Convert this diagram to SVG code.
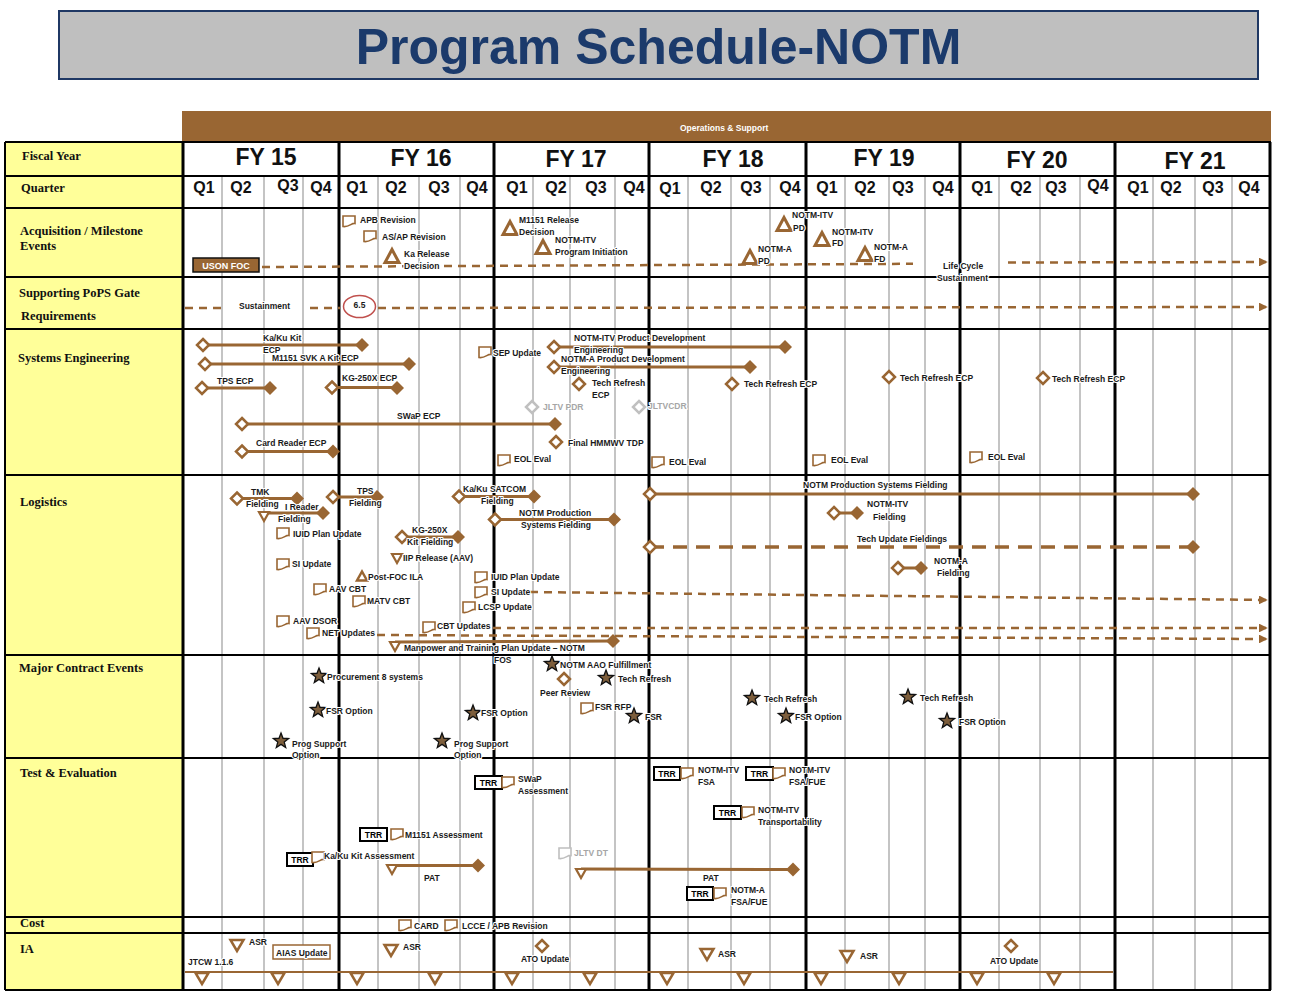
<svg xmlns="http://www.w3.org/2000/svg" xmlns:xlink="http://www.w3.org/1999/xlink" width="1295" height="991" viewBox="0 0 1295 991">
<style>
.t{font-family:"Liberation Sans",Arial,sans-serif;font-size:8.5px;font-weight:bold;fill:#1a1a1a;paint-order:stroke;stroke:#fff;stroke-width:2.2px;stroke-linejoin:round}
.g{font-family:"Liberation Sans",Arial,sans-serif;font-size:8.5px;font-weight:bold;fill:#a6a6a6;paint-order:stroke;stroke:#fff;stroke-width:2.2px;stroke-linejoin:round}
.w{font-family:"Liberation Sans",Arial,sans-serif;font-size:8.5px;font-weight:bold;fill:#ffffff}
.h{font-family:"Liberation Serif","Times New Roman",serif;font-size:12.5px;font-weight:bold;fill:#111}
.q{font-family:"Liberation Sans",Arial,sans-serif;font-size:16px;font-weight:bold;fill:#111;text-anchor:middle}
.fy{font-family:"Liberation Sans",Arial,sans-serif;font-size:23px;font-weight:bold;fill:#111;text-anchor:middle}
.bar{stroke:#996633;stroke-width:3;fill:none}
.dash{stroke:#996633;stroke-width:2.5;fill:none;stroke-dasharray:8 6}
.row{stroke:#000;stroke-width:2}
.fyl{stroke:#000;stroke-width:3}
.ql{stroke:#c4c4c4;stroke-width:2}
.trr{fill:#fff;stroke:#000;stroke-width:2}
</style>
<defs>
<marker id="arr" viewBox="0 0 10 10" refX="8" refY="5" markerWidth="3.5" markerHeight="3.5" orient="auto"><path d="M0,0 L10,5 L0,10 Z" fill="#996633"/></marker>
<path id="dO" d="M0,-6 L6,0 L0,6 L-6,0 Z" fill="#fff" stroke="#996633" stroke-width="2.5"/>
<path id="dG" d="M0,-6 L6,0 L0,6 L-6,0 Z" fill="#fff" stroke="#c0c0c0" stroke-width="2.5"/>
<path id="dF" d="M0,-7 L7,0 L0,7 L-7,0 Z" fill="#996633"/>
<path id="doc" d="M-6,-5 H6 V2.5 C3,1.5 0,6.5 -6,5.5 Z" fill="#fff" stroke="#996633" stroke-width="1.6"/>
<path id="docG" d="M-6,-5 H6 V2.5 C3,1.5 0,6.5 -6,5.5 Z" fill="#fff" stroke="#bfbfbf" stroke-width="1.6"/>
<path id="tU" d="M0,-6.5 L7,6.5 L-7,6.5 Z" fill="#fff" stroke="#996633" stroke-width="3" stroke-linejoin="miter"/>
<path id="tUs" d="M0,-4.5 L5,4.5 L-5,4.5 Z" fill="#fff" stroke="#996633" stroke-width="2.5"/>
<path id="tDs" d="M-5,-4 H5 L0,5 Z" fill="#fff" stroke="#996633" stroke-width="2.2"/>
<path id="tD" d="M-6.5,-5 H6.5 L0,6 Z" fill="#fff" stroke="#996633" stroke-width="2.5"/>
<path id="star" d="M0,-8 L2,-2.75 L7.61,-2.47 L3.23,1.05 L4.7,6.47 L0,3.4 L-4.7,6.47 L-3.23,1.05 L-7.61,-2.47 L-2,-2.75 Z" fill="#7d5e3c" stroke="#111" stroke-width="1.3"/>
</defs>

<rect x="0" y="0" width="1295" height="991" fill="#fff"/>

<g id="title">
<rect x="59" y="11" width="1199" height="68" fill="#bfbfbf" stroke="#1f3864" stroke-width="2"/>
<text x="658.5" y="64" text-anchor="middle" style="font-family:'Liberation Sans',Arial,sans-serif;font-size:50px;font-weight:bold;fill:#1b3a6b">Program Schedule-NOTM</text>
</g>

<g id="os-bar">
<rect x="182" y="111" width="1089" height="30" fill="#996633"/>
<text class="w" x="680" y="131">Operations &amp; Support</text>
</g>

<g id="grid">
<rect x="5" y="142" width="178" height="848" fill="#ffff99"/>
<g>
<line class="ql" x1="222" y1="176" x2="222" y2="990"/><line class="ql" x1="264" y1="176" x2="264" y2="990"/><line class="ql" x1="303" y1="176" x2="303" y2="990"/>
<line class="ql" x1="378" y1="176" x2="378" y2="990"/><line class="ql" x1="419" y1="176" x2="419" y2="990"/><line class="ql" x1="460" y1="176" x2="460" y2="990"/>
<line class="ql" x1="533" y1="176" x2="533" y2="990"/><line class="ql" x1="570" y1="176" x2="570" y2="990"/><line class="ql" x1="615" y1="176" x2="615" y2="990"/>
<line class="ql" x1="688" y1="176" x2="688" y2="990"/><line class="ql" x1="731" y1="176" x2="731" y2="990"/><line class="ql" x1="770" y1="176" x2="770" y2="990"/>
<line class="ql" x1="845" y1="176" x2="845" y2="990"/><line class="ql" x1="889" y1="176" x2="889" y2="990"/><line class="ql" x1="925" y1="176" x2="925" y2="990"/>
<line class="ql" x1="999" y1="176" x2="999" y2="990"/><line class="ql" x1="1040" y1="176" x2="1040" y2="990"/><line class="ql" x1="1080" y1="176" x2="1080" y2="990"/>
<line class="ql" x1="1153" y1="176" x2="1153" y2="990"/><line class="ql" x1="1195" y1="176" x2="1195" y2="990"/><line class="ql" x1="1232" y1="176" x2="1232" y2="990"/>
</g>
<g>
<line class="row" x1="5" y1="142" x2="1271" y2="142"/><line class="row" x1="5" y1="176" x2="1271" y2="176"/>
<line class="row" x1="5" y1="208" x2="1271" y2="208"/><line class="row" x1="5" y1="277" x2="1271" y2="277"/>
<line class="row" x1="5" y1="329" x2="1271" y2="329"/><line class="row" x1="5" y1="475" x2="1271" y2="475"/>
<line class="row" x1="5" y1="655" x2="1271" y2="655"/><line class="row" x1="5" y1="758" x2="1271" y2="758"/>
<line class="row" x1="5" y1="917" x2="1271" y2="917"/><line class="row" x1="5" y1="933" x2="1271" y2="933"/>
<line class="row" x1="5" y1="990" x2="1271" y2="990"/>
<line class="row" x1="5" y1="142" x2="5" y2="990"/>
</g>
<g>
<line class="fyl" x1="183" y1="142" x2="183" y2="990"/><line class="fyl" x1="339" y1="142" x2="339" y2="990"/>
<line class="fyl" x1="494" y1="142" x2="494" y2="990"/><line class="fyl" x1="649" y1="142" x2="649" y2="990"/>
<line class="fyl" x1="806" y1="142" x2="806" y2="990"/><line class="fyl" x1="960" y1="142" x2="960" y2="990"/>
<line class="fyl" x1="1115" y1="142" x2="1115" y2="990"/><line class="fyl" x1="1270" y1="142" x2="1270" y2="990"/>
</g>
<g id="fy-labels">
<text class="fy" x="266" y="165">FY 15</text><text class="fy" x="421" y="166">FY 16</text>
<text class="fy" x="576" y="167">FY 17</text><text class="fy" x="733" y="167">FY 18</text>
<text class="fy" x="884" y="166">FY 19</text><text class="fy" x="1037" y="168">FY 20</text>
<text class="fy" x="1195" y="169">FY 21</text>
</g>
<g id="q-labels">
<text class="q" x="204" y="193">Q1</text><text class="q" x="241" y="193">Q2</text><text class="q" x="288" y="191">Q3</text><text class="q" x="321" y="193">Q4</text>
<text class="q" x="357" y="193">Q1</text><text class="q" x="396" y="193">Q2</text><text class="q" x="439" y="193">Q3</text><text class="q" x="477" y="193">Q4</text>
<text class="q" x="517" y="193">Q1</text><text class="q" x="556" y="193">Q2</text><text class="q" x="596" y="193">Q3</text><text class="q" x="634" y="193">Q4</text>
<text class="q" x="670" y="194">Q1</text><text class="q" x="711" y="193">Q2</text><text class="q" x="751" y="193">Q3</text><text class="q" x="790" y="193">Q4</text>
<text class="q" x="827" y="193">Q1</text><text class="q" x="865" y="193">Q2</text><text class="q" x="903" y="193">Q3</text><text class="q" x="943" y="193">Q4</text>
<text class="q" x="982" y="193">Q1</text><text class="q" x="1021" y="193">Q2</text><text class="q" x="1056" y="193">Q3</text><text class="q" x="1098" y="191">Q4</text>
<text class="q" x="1138" y="193">Q1</text><text class="q" x="1171" y="193">Q2</text><text class="q" x="1213" y="193">Q3</text><text class="q" x="1249" y="193">Q4</text>
</g>
<g id="row-labels">
<text class="h" x="22" y="160">Fiscal Year</text>
<text class="h" x="21" y="192">Quarter</text>
<text class="h" x="20" y="235">Acquisition / Milestone</text>
<text class="h" x="20" y="250">Events</text>
<text class="h" x="19" y="297">Supporting PoPS Gate</text>
<text class="h" x="21" y="320">Requirements</text>
<text class="h" x="18" y="362">Systems Engineering</text>
<text class="h" x="20" y="506">Logistics</text>
<text class="h" x="19" y="672">Major Contract Events</text>
<text class="h" x="20" y="777">Test &amp; Evaluation</text>
<text class="h" x="20" y="927">Cost</text>
<text class="h" x="20" y="953">IA</text>
</g>
</g>

<g id="connectors">
<line class="dash" x1="262" y1="267" x2="913" y2="263.8"/>
<line class="dash" x1="1008" y1="262.5" x2="1266" y2="262" marker-end="url(#arr)"/>
<line class="dash" x1="185" y1="308" x2="222" y2="308"/>
<line class="dash" x1="310" y1="308" x2="340" y2="308"/>
<line class="dash" x1="378" y1="308" x2="1266" y2="307" marker-end="url(#arr)"/>
<line class="bar" x1="203" y1="345" x2="362" y2="345"/>
<line class="bar" x1="205" y1="364" x2="409" y2="364"/>
<line class="bar" x1="202" y1="388" x2="270" y2="388"/>
<line class="bar" x1="332" y1="387.5" x2="397" y2="387.5"/>
<line class="bar" x1="242" y1="424" x2="555" y2="424"/>
<line class="bar" x1="242" y1="451.5" x2="333" y2="451.5"/>
<line class="bar" x1="554" y1="347" x2="785" y2="347"/>
<line class="bar" x1="554" y1="367" x2="750" y2="367"/>
<line class="bar" x1="237" y1="498.5" x2="297" y2="498.5"/>
<line class="bar" x1="333" y1="497" x2="377" y2="497"/>
<line class="bar" x1="264" y1="513" x2="323" y2="513"/>
<line class="bar" x1="402" y1="537" x2="458" y2="537"/>
<line class="bar" x1="459" y1="496.5" x2="534" y2="496.5"/>
<line class="bar" x1="495" y1="519.5" x2="614" y2="519.5"/>
<line class="bar" x1="650" y1="494" x2="1193" y2="494"/>
<line class="bar" x1="834" y1="513" x2="857" y2="513"/>
<line x1="650" y1="547" x2="1193" y2="547" stroke="#996633" stroke-width="3.5" stroke-dasharray="14 9"/>
<line class="bar" x1="898" y1="568" x2="921" y2="568"/>
<line class="dash" x1="530" y1="592" x2="1266" y2="600" marker-end="url(#arr)"/>
<line class="dash" x1="493" y1="628" x2="1266" y2="628" marker-end="url(#arr)"/>
<line class="dash" x1="377" y1="635" x2="1266" y2="639" marker-end="url(#arr)"/>
<line class="bar" x1="395" y1="642" x2="613" y2="641"/>
<line class="bar" x1="392" y1="865.5" x2="478" y2="865.5"/>
<line class="bar" x1="581" y1="869" x2="793" y2="869.5"/>
<line x1="185" y1="972" x2="1113" y2="972" stroke="#996633" stroke-width="2"/>
</g>

<g id="nodes">
<g id="acq-apb"><use href="#doc" x="349" y="221"/><text class="t" x="360" y="223">APB Revision</text></g>
<g id="acq-asap"><use href="#doc" x="370" y="236"/><text class="t" x="382" y="240">AS/AP Revision</text></g>
<g id="acq-ka"><use href="#tU" x="392" y="256"/><text class="t" x="404" y="257">Ka Release</text><text class="t" x="404" y="269">Decision</text></g>
<g id="acq-uson"><rect x="193" y="258" width="66" height="14" fill="#996633" stroke="#111" stroke-width="1.5"/><text class="w" x="226" y="268.5" text-anchor="middle" style="font-size:9px">USON FOC</text></g>
<g id="acq-m1151"><use href="#tU" x="510" y="228"/><text class="t" x="519" y="223">M1151 Release</text><text class="t" x="519" y="235">Decision</text></g>
<g id="acq-itvpi"><use href="#tU" x="543" y="247"/><text class="t" x="555" y="243">NOTM-ITV</text><text class="t" x="555" y="255">Program Initiation</text></g>
<g id="acq-itvpd"><text class="t" x="792" y="218">NOTM-ITV</text><use href="#tU" x="784" y="224"/><text class="t" x="793" y="231">PD</text></g>
<g id="acq-itvfd"><use href="#tU" x="822" y="239"/><text class="t" x="832" y="235">NOTM-ITV</text><text class="t" x="832" y="246">FD</text></g>
<g id="acq-apd"><use href="#tU" x="750" y="257"/><text class="t" x="758" y="252">NOTM-A</text><text class="t" x="758" y="264">PD</text></g>
<g id="acq-afd"><use href="#tU" x="865" y="254"/><text class="t" x="874" y="250">NOTM-A</text><text class="t" x="874" y="262">FD</text></g>
<g id="acq-lcs"><text class="t" x="943" y="269">Life Cycle</text><text class="t" x="937" y="281">Sustainment</text></g>

<g id="pops-sust"><text class="t" x="239" y="309">Sustainment</text></g>
<g id="pops-65"><ellipse cx="359.5" cy="306.5" rx="16" ry="11" fill="#fff" stroke="#c0504d" stroke-width="1.5"/><text class="t" x="359.5" y="308" text-anchor="middle">6.5</text></g>

<g id="se-kaku"><use href="#dO" x="203" y="345"/><use href="#dF" x="362" y="345"/><text class="t" x="263" y="341">Ka/Ku Kit</text><text class="t" x="263" y="353">ECP</text></g>
<g id="se-m1151"><use href="#dO" x="205" y="364"/><use href="#dF" x="409" y="364"/><text class="t" x="272" y="361">M1151 SVK A Kit ECP</text></g>
<g id="se-tps"><use href="#dO" x="202" y="388"/><use href="#dF" x="270" y="388"/><text class="t" x="217" y="384">TPS ECP</text></g>
<g id="se-kg"><use href="#dO" x="332" y="387.5"/><use href="#dF" x="397" y="388"/><text class="t" x="342" y="381">KG-250X ECP</text></g>
<g id="se-swap"><use href="#dO" x="242" y="424"/><use href="#dF" x="555" y="424"/><text class="t" x="397" y="419">SWaP ECP</text></g>
<g id="se-card"><use href="#dO" x="242" y="451.5"/><use href="#dF" x="333" y="451.5"/><text class="t" x="256" y="446">Card Reader ECP</text></g>
<g id="se-sep"><use href="#doc" x="485" y="352"/><text class="t" x="493" y="356">SEP Update</text></g>
<g id="se-itvpde"><use href="#dO" x="554" y="347"/><use href="#dF" x="785" y="347"/><text class="t" x="574" y="341">NOTM-ITV Product Development</text><text class="t" x="574" y="353">Engineering</text></g>
<g id="se-apde"><use href="#dO" x="554" y="367"/><use href="#dF" x="750" y="367"/><text class="t" x="561" y="362">NOTM-A Product Development</text><text class="t" x="561" y="374">Engineering</text></g>
<g id="se-tr1"><use href="#dO" x="579" y="384"/><text class="t" x="592" y="386">Tech Refresh</text><text class="t" x="592" y="398">ECP</text></g>
<g id="se-tr2"><use href="#dO" x="732" y="384"/><text class="t" x="744" y="387">Tech Refresh ECP</text></g>
<g id="se-tr3"><use href="#dO" x="889" y="377"/><text class="t" x="900" y="381">Tech Refresh ECP</text></g>
<g id="se-tr4"><use href="#dO" x="1043" y="378"/><text class="t" x="1052" y="382">Tech Refresh ECP</text></g>
<g id="se-pdr"><use href="#dG" x="532" y="407"/><text class="g" x="543" y="410">JLTV PDR</text></g>
<g id="se-cdr"><use href="#dG" x="639" y="407"/><text class="g" x="648" y="409">JLTVCDR</text></g>
<g id="se-tdp"><use href="#dO" x="556" y="442"/><text class="t" x="568" y="446">Final HMMWV TDP</text></g>
<g id="se-eol1"><use href="#doc" x="504" y="460"/><text class="t" x="514" y="462">EOL Eval</text></g>
<g id="se-eol2"><use href="#doc" x="658" y="462"/><text class="t" x="669" y="465">EOL Eval</text></g>
<g id="se-eol3"><use href="#doc" x="819" y="460"/><text class="t" x="831" y="463">EOL Eval</text></g>
<g id="se-eol4"><use href="#doc" x="976" y="457"/><text class="t" x="988" y="460">EOL Eval</text></g>

<g id="lg-tmk"><use href="#dO" x="237" y="498.5"/><use href="#dF" x="297" y="498.5"/><text class="t" x="251" y="495">TMK</text><text class="t" x="246" y="507">Fielding</text></g>
<g id="lg-tps"><use href="#dO" x="333" y="497"/><use href="#dF" x="377" y="497"/><text class="t" x="357" y="494">TPS</text><text class="t" x="349" y="506">Fielding</text></g>
<g id="lg-ireader"><use href="#tDs" x="264" y="516"/><use href="#dF" x="323" y="513"/><text class="t" x="285" y="510">I Reader</text><text class="t" x="278" y="522">Fielding</text></g>
<g id="lg-iuid"><use href="#doc" x="283" y="533"/><text class="t" x="293" y="537">IUID Plan Update</text></g>
<g id="lg-si"><use href="#doc" x="283" y="564"/><text class="t" x="292" y="567">SI Update</text></g>
<g id="lg-aavcbt"><use href="#doc" x="320" y="589"/><text class="t" x="329" y="592">AAV CBT</text></g>
<g id="lg-matv"><use href="#doc" x="359" y="601"/><text class="t" x="367" y="604">MATV CBT</text></g>
<g id="lg-dsor"><use href="#doc" x="283" y="621"/><text class="t" x="293" y="624">AAV DSOR</text></g>
<g id="lg-net"><use href="#doc" x="313" y="633"/><text class="t" x="322" y="636">NET Updates</text></g>
<g id="lg-kg"><use href="#dO" x="402" y="537"/><use href="#dF" x="458" y="537"/><text class="t" x="412" y="533">KG-250X</text><text class="t" x="407" y="545">Kit Fielding</text></g>
<g id="lg-iip"><use href="#tDs" x="397" y="558"/><text class="t" x="403" y="561">IIP Release (AAV)</text></g>
<g id="lg-ila"><use href="#tUs" x="362" y="576"/><text class="t" x="368" y="580">Post-FOC ILA</text></g>
<g id="lg-mtp"><use href="#tDs" x="395" y="646"/><use href="#dF" x="613" y="641"/><text class="t" x="404" y="651">Manpower and Training Plan Update – NOTM</text><text class="t" x="494" y="663">FOS</text></g>
<g id="lg-cbt"><use href="#doc" x="429" y="627"/><text class="t" x="437" y="629">CBT Updates</text></g>
<g id="lg-iuid2"><use href="#doc" x="481" y="577"/><text class="t" x="491" y="580">IUID Plan Update</text></g>
<g id="lg-si2"><use href="#doc" x="481" y="592"/><text class="t" x="491" y="595">SI Update</text></g>
<g id="lg-lcsp"><use href="#doc" x="469" y="607"/><text class="t" x="478" y="610">LCSP Update</text></g>
<g id="lg-satcom"><use href="#dO" x="459" y="496.5"/><use href="#dF" x="534" y="496.5"/><text class="t" x="463" y="492">Ka/Ku SATCOM</text><text class="t" x="481" y="504">Fielding</text></g>
<g id="lg-prod1"><use href="#dO" x="495" y="519.5"/><use href="#dF" x="614" y="519.5"/><text class="t" x="519" y="516">NOTM Production</text><text class="t" x="521" y="528">Systems Fielding</text></g>
<g id="lg-prod2"><use href="#dO" x="650" y="494"/><use href="#dF" x="1193" y="494"/><text class="t" x="803" y="488">NOTM Production Systems Fielding</text></g>
<g id="lg-itvf"><use href="#dO" x="834" y="513"/><use href="#dF" x="857" y="513"/><text class="t" x="867" y="507">NOTM-ITV</text><text class="t" x="873" y="520">Fielding</text></g>
<g id="lg-tuf"><use href="#dO" x="650" y="547"/><use href="#dF" x="1193" y="547"/><text class="t" x="857" y="542">Tech Update Fieldings</text></g>
<g id="lg-af"><use href="#dO" x="898" y="568"/><use href="#dF" x="921" y="568"/><text class="t" x="934" y="564">NOTM-A</text><text class="t" x="937" y="576">Fielding</text></g>

<g id="mc-proc"><use href="#star" x="319" y="676"/><text class="t" x="327" y="680">Procurement 8 systems</text></g>
<g id="mc-fsr1"><use href="#star" x="318" y="710"/><text class="t" x="326" y="714">FSR Option</text></g>
<g id="mc-prog1"><use href="#star" x="281" y="741"/><text class="t" x="292" y="747">Prog Support</text><text class="t" x="292" y="758">Option</text></g>
<g id="mc-fsr2"><use href="#star" x="473" y="713"/><text class="t" x="481" y="716">FSR Option</text></g>
<g id="mc-prog2"><use href="#star" x="442" y="741"/><text class="t" x="454" y="747">Prog Support</text><text class="t" x="454" y="758">Option</text></g>
<g id="mc-aao"><use href="#star" x="552" y="664"/><text class="t" x="560" y="668">NOTM AAO Fulfillment</text></g>
<g id="mc-peer"><use href="#dO" x="564" y="679"/><text class="t" x="540" y="696">Peer Review</text></g>
<g id="mc-tr1"><use href="#star" x="606" y="678"/><text class="t" x="618" y="682">Tech Refresh</text></g>
<g id="mc-rfp"><use href="#doc" x="587" y="708"/><text class="t" x="595" y="710">FSR RFP</text></g>
<g id="mc-fsr"><use href="#star" x="634" y="716"/><text class="t" x="645" y="720">FSR</text></g>
<g id="mc-tr2"><use href="#star" x="752" y="698"/><text class="t" x="764" y="702">Tech Refresh</text></g>
<g id="mc-fsr3"><use href="#star" x="786" y="716"/><text class="t" x="795" y="720">FSR Option</text></g>
<g id="mc-tr3"><use href="#star" x="908" y="697"/><text class="t" x="920" y="701">Tech Refresh</text></g>
<g id="mc-fsr4"><use href="#star" x="947" y="721"/><text class="t" x="959" y="725">FSR Option</text></g>

<g id="te-swap"><rect class="trr" x="475" y="776" width="27" height="13"/><text class="t" x="488.5" y="786" text-anchor="middle" style="fill:#000">TRR</text><use href="#doc" x="508" y="782"/><text class="t" x="518" y="782">SWaP</text><text class="t" x="518" y="794">Assessment</text></g>
<g id="te-m1151"><rect class="trr" x="360" y="828" width="27" height="13"/><text class="t" x="373.5" y="838" text-anchor="middle" style="fill:#000">TRR</text><use href="#doc" x="397" y="834"/><text class="t" x="405" y="838">M1151 Assessment</text></g>
<g id="te-kaku"><rect class="trr" x="287" y="853" width="26" height="13"/><text class="t" x="300" y="863" text-anchor="middle" style="fill:#000">TRR</text><use href="#doc" x="318" y="857"/><text class="t" x="324" y="859">Ka/Ku Kit Assessment</text></g>
<g id="te-pat1"><use href="#tDs" x="392" y="869"/><use href="#dF" x="478" y="865.5"/><text class="t" x="424" y="881">PAT</text></g>
<g id="te-jltv"><use href="#docG" x="565" y="853"/><text class="g" x="574" y="856">JLTV DT</text></g>
<g id="te-pat2"><use href="#tDs" x="581" y="873"/><use href="#dF" x="793" y="869.5"/><text class="t" x="703" y="881">PAT</text></g>
<g id="te-itvfsa"><rect class="trr" x="654" y="767" width="26" height="13"/><text class="t" x="667" y="777" text-anchor="middle" style="fill:#000">TRR</text><use href="#doc" x="687" y="773"/><text class="t" x="698" y="773">NOTM-ITV</text><text class="t" x="698" y="785">FSA</text></g>
<g id="te-itvfue"><rect class="trr" x="746" y="767" width="27" height="13"/><text class="t" x="759.5" y="777" text-anchor="middle" style="fill:#000">TRR</text><use href="#doc" x="779" y="773"/><text class="t" x="789" y="773">NOTM-ITV</text><text class="t" x="789" y="785">FSA/FUE</text></g>
<g id="te-trans"><rect class="trr" x="714" y="806" width="27" height="13"/><text class="t" x="727.5" y="816" text-anchor="middle" style="fill:#000">TRR</text><use href="#doc" x="748" y="812"/><text class="t" x="758" y="813">NOTM-ITV</text><text class="t" x="758" y="825">Transportability</text></g>
<g id="te-afue"><rect class="trr" x="687" y="887" width="26" height="13"/><text class="t" x="700" y="897" text-anchor="middle" style="fill:#000">TRR</text><use href="#doc" x="720" y="893"/><text class="t" x="731" y="893">NOTM-A</text><text class="t" x="731" y="905">FSA/FUE</text></g>

<g id="cost-card"><use href="#doc" x="405" y="925"/><text class="t" x="414" y="929">CARD</text></g>
<g id="cost-lcce"><use href="#doc" x="451" y="925"/><text class="t" x="462" y="929">LCCE / APB Revision</text></g>

<g id="ia-asr1"><use href="#tD" x="237" y="945"/><text class="t" x="249" y="945">ASR</text></g>
<g id="ia-aias"><rect x="273" y="945" width="57" height="14" fill="#fff" stroke="#996633" stroke-width="1.5"/><text class="t" x="276" y="956">AIAS Update</text></g>
<g id="ia-jtcw"><text class="t" x="188" y="965">JTCW 1.1.6</text></g>
<g id="ia-asr2"><use href="#tD" x="391" y="950"/><text class="t" x="403" y="950">ASR</text></g>
<g id="ia-ato1"><use href="#dO" x="542" y="946"/><text class="t" x="521" y="962">ATO Update</text></g>
<g id="ia-asr3"><use href="#tD" x="707" y="954"/><text class="t" x="718" y="957">ASR</text></g>
<g id="ia-asr4"><use href="#tD" x="847" y="956"/><text class="t" x="860" y="959">ASR</text></g>
<g id="ia-ato2"><use href="#dO" x="1011" y="946"/><text class="t" x="990" y="964">ATO Update</text></g>
<g id="ia-ticks">
<use href="#tD" x="202" y="978"/><use href="#tD" x="278" y="978"/><use href="#tD" x="357" y="978"/><use href="#tD" x="435" y="978"/>
<use href="#tD" x="512" y="978"/><use href="#tD" x="590" y="978"/><use href="#tD" x="667" y="978"/><use href="#tD" x="744" y="978"/>
<use href="#tD" x="821" y="978"/><use href="#tD" x="899" y="978"/><use href="#tD" x="977" y="978"/><use href="#tD" x="1054" y="978"/>
</g>
</g>
</svg>
